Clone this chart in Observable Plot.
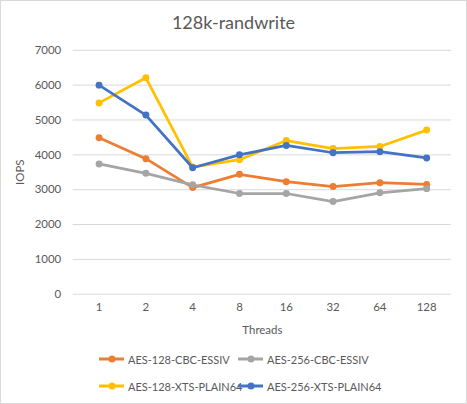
<!DOCTYPE html>
<html>
<head>
<meta charset="utf-8">
<script src="https://cdn.jsdelivr.net/npm/d3@7"></script>
<script src="https://cdn.jsdelivr.net/npm/@observablehq/plot@0.6"></script>
<style>
  body { margin: 0; background: #fff; }
  #chart {
    position: relative;
    width: 465px; height: 402px;
    border: 1px solid #d9d9d9;
    font-family: Lato, "Open Sans", sans-serif;
    color: #595959;
    overflow: hidden;
  }
  #chart svg.plot { position: absolute; left: -1px; top: -1px; }
  #title {
    position: absolute; left: 0; right: 0; top: 10px;
    text-align: center; font-size: 18px;
  }
  .leg {
    position: absolute; font-size: 11px; display: flex; align-items: center;
    white-space: nowrap;
  }
  .leg svg { margin-right: 3px; }
</style>
</head>
<body>
<div id="chart">
  <div id="title">128k-randwrite</div>
</div>
<script>
// data
const threads = ["1", "2", "4", "8", "16", "32", "64", "128"];
const aes128cbc = [4490, 3890, 3060, 3440, 3230, 3090, 3200, 3150];
const aes256cbc = [3740, 3470, 3140, 2890, 2890, 2660, 2910, 3030];
const aes128xts = [5490, 6210, 3650, 3860, 4410, 4180, 4240, 4710];
const aes256xts = [6000, 5140, 3630, 4000, 4270, 4060, 4090, 3910];
const yTicks = [0, 1000, 2000, 3000, 4000, 5000, 6000, 7000];

const seriesNames = ["AES-128-CBC-ESSIV", "AES-256-CBC-ESSIV", "AES-128-XTS-PLAIN64", "AES-256-XTS-PLAIN64"];
const seriesValues = [aes128cbc, aes256cbc, aes128xts, aes256xts];
const colors = ["#ED7D31", "#A5A5A5", "#FFC000", "#4472C4"];

let rows = [];
seriesNames.forEach((name, i) => {
  threads.forEach((t, j) => rows.push({series: name, threads: t, iops: seriesValues[i][j]}));
});

let lineMarks = [];
seriesNames.forEach((name, i) => {
  const d = rows.filter(r => r.series === name);
  lineMarks.push(Plot.line(d, {x: "threads", y: "iops", stroke: colors[i], strokeWidth: 2.75}));
  lineMarks.push(Plot.dot(d, {x: "threads", y: "iops", fill: colors[i], r: 3.5}));
});

let chart = Plot.plot({
  width: 467,
  height: 340,
  marginTop: 49,
  marginBottom: 46,
  marginLeft: 72,
  marginRight: 15,
  style: {
    fontFamily: "Lato, 'Open Sans', sans-serif",
    fontSize: "11.5px",
    color: "#595959",
    background: "transparent",
  },
  x: {type: "point", domain: threads, padding: 0.5},
  y: {domain: [0, 7000]},
  marks: [
    Plot.ruleY(yTicks, {stroke: "#d9d9d9", strokeWidth: 1}),
    Plot.axisY({
      ticks: yTicks,
      tickFormat: d3.format("d"),
      tickSize: 0,
      tickPadding: 12,
      label: "IOPS",
      labelAnchor: "center",
      labelArrow: false,
      labelOffset: 58,
    }),
    Plot.axisX({
      tickSize: 0,
      tickPadding: 9,
      label: "Threads",
      labelAnchor: "center",
      labelArrow: false,
      labelOffset: 40,
    }),
    ...lineMarks,
  ],
});

d3.select("#chart").append(() => chart);

// legend, two rows under the chart
const legPos = [[97, 358], [236, 358], [97, 385], [236, 385]];
seriesNames.forEach((name, i) => {
  const item = d3.select("#chart").append("div").attr("class", "leg")
    .style("left", legPos[i][0] + "px")
    .style("top", (legPos[i][1] - 9) + "px");
  const s = item.append("svg").attr("width", 27).attr("height", 18);
  s.append("line").attr("x1", 1).attr("x2", 26).attr("y1", 9).attr("y2", 9)
    .attr("stroke", colors[i]).attr("stroke-width", 3);
  s.append("circle").attr("cx", 14).attr("cy", 9).attr("r", 3.5).attr("fill", colors[i]);
  item.append("span").text(name);
});
</script>
</body>
</html>
